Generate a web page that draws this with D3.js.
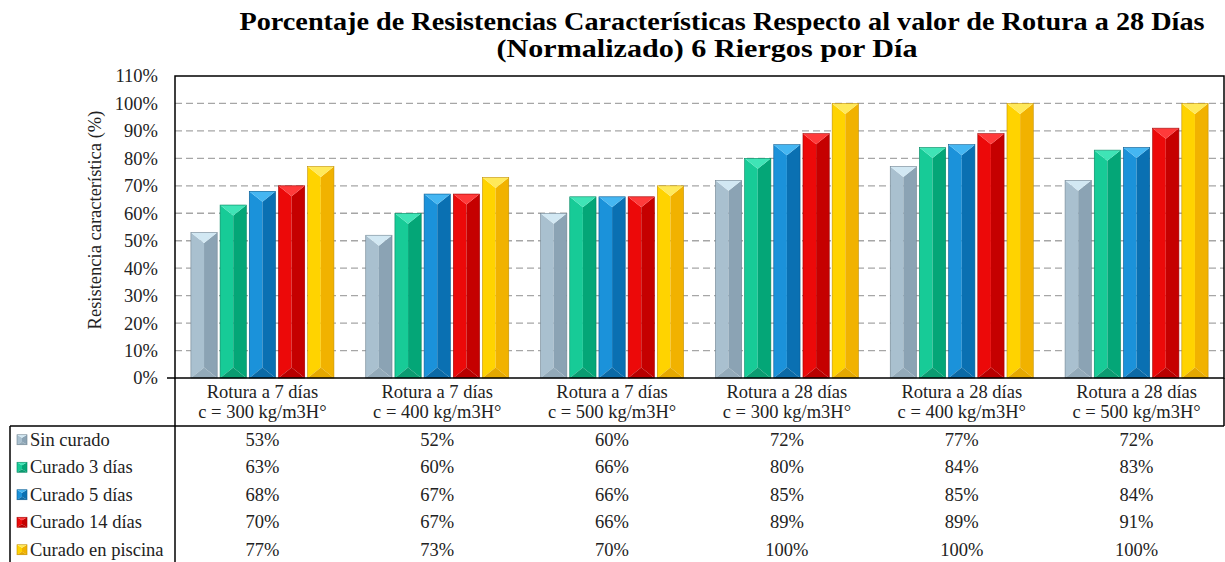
<!DOCTYPE html>
<html>
<head>
<meta charset="utf-8">
<script src="https://cdn.jsdelivr.net/npm/d3@7"></script>
<style>
  body { margin: 0; background: #fff; }
  text { font-family: "Liberation Serif", "DejaVu Serif", serif; }
</style>
</head>
<body>
<svg width="1225" height="562"></svg>
<script>
// datos del grafico
var categoriesTop = ["Rotura a 7 días", "Rotura a 7 días", "Rotura a 7 días", "Rotura a 28 días", "Rotura a 28 días", "Rotura a 28 días"];
var categoriesBottom = ["c = 300 kg/m3H°", "c = 400 kg/m3H°", "c = 500 kg/m3H°", "c = 300 kg/m3H°", "c = 400 kg/m3H°", "c = 500 kg/m3H°"];
var seriesNames = ["Sin curado", "Curado 3 días", "Curado 5 días", "Curado 14 días", "Curado en piscina"];
var sinCurado = [53, 52, 60, 72, 77, 72];
var curado3 = [63, 60, 66, 80, 84, 83];
var curado5 = [68, 67, 66, 85, 85, 84];
var curado14 = [70, 67, 66, 89, 89, 91];
var piscina = [77, 73, 70, 100, 100, 100];
var yTicks = [0, 10, 20, 30, 40, 50, 60, 70, 80, 90, 100, 110];

var seriesValues = [sinCurado, curado3, curado5, curado14, piscina];
var serif = "Liberation Serif, DejaVu Serif, serif";

// colores: cara izquierda, cara derecha, arriba, abajo
var colors = [
  {l: "#a9c0cf", r: "#8ba3b4", t: "#d2e8f3", b: "#93aab9"},
  {l: "#17cb97", r: "#04a677", t: "#3fe4b6", b: "#0b9c71"},
  {l: "#1b92da", r: "#0a70b2", t: "#45b6f2", b: "#0c6aa6"},
  {l: "#ec0909", r: "#c50000", t: "#ff3a3a", b: "#b80000"},
  {l: "#ffd300", r: "#f1b200", t: "#ffe95a", b: "#e4a800"}
];

var svg = d3.select("svg");
var plot = {left: 175, right: 1224, top: 76, bottom: 378};

var x0 = d3.scaleBand().domain(d3.range(categoriesTop.length)).range([plot.left, plot.right]).padding(0);
var x1 = d3.scaleBand().domain(d3.range(seriesNames.length)).range([0, x0.bandwidth()])
  .paddingInner(0.1).paddingOuter(0.545);
var y = d3.scaleLinear().domain([0, 110]).range([plot.bottom, plot.top]);

// titulo
svg.append("text").attr("x", 722).attr("y", 30).attr("text-anchor", "middle")
  .attr("font-family", serif).attr("font-size", 25).attr("font-weight", "bold").attr("fill", "#000")
  .attr("textLength", 965).attr("lengthAdjust", "spacingAndGlyphs")
  .text("Porcentaje de Resistencias Características Respecto al valor de Rotura a 28 Días");
svg.append("text").attr("x", 707).attr("y", 57).attr("text-anchor", "middle")
  .attr("font-family", serif).attr("font-size", 25).attr("font-weight", "bold").attr("fill", "#000")
  .attr("textLength", 421).attr("lengthAdjust", "spacingAndGlyphs")
  .text("(Normalizado) 6 Riergos por Día");

// lineas de la cuadricula
svg.append("g").selectAll("line")
  .data(yTicks.filter(function(d) { return d > 0 && d < 110; }))
  .enter().append("line")
  .attr("x1", plot.left).attr("x2", plot.right)
  .attr("y1", function(d) { return y(d); }).attr("y2", function(d) { return y(d); })
  .attr("stroke", "#a6a6a6").attr("stroke-width", 1.3).attr("stroke-dasharray", "7,4");

// eje y
var yAxis = svg.append("g")
  .attr("transform", "translate(" + plot.left + ",0)")
  .call(d3.axisLeft(y).tickValues(yTicks).tickSize(0).tickPadding(17).tickFormat(function(d) { return d + "%"; }));
yAxis.attr("font-family", serif).attr("font-size", 18.5);
yAxis.select(".domain").remove();
yAxis.selectAll("text").attr("fill", "#222");

svg.append("text")
  .attr("transform", "translate(101,220) rotate(-90)")
  .attr("font-family", serif).attr("text-anchor", "middle").attr("font-size", 18.5).attr("fill", "#222")
  .text("Resistencia característica (%)");

// barras con bisel
function bevel(g, x, yTop, w, h, c, b) {
  b = Math.min(b, h / 2);
  var xr = x + w, yb = yTop + h;
  g.append("polygon").attr("points", [[x, yTop], [x + w / 2, yTop + b], [x + w / 2, yb - b], [x, yb]].join(" ")).attr("fill", c.l);
  g.append("polygon").attr("points", [[xr, yTop], [x + w / 2, yTop + b], [x + w / 2, yb - b], [xr, yb]].join(" ")).attr("fill", c.r);
  g.append("polygon").attr("points", [[x, yTop], [xr, yTop], [x + w / 2, yTop + b]].join(" ")).attr("fill", c.t);
  g.append("polygon").attr("points", [[x, yb], [xr, yb], [x + w / 2, yb - b]].join(" ")).attr("fill", c.b);
  g.append("rect").attr("x", x).attr("y", yTop).attr("width", w).attr("height", h)
    .attr("fill", "none").attr("stroke", d3.color(c.r).darker(0.6)).attr("stroke-width", 0.6);
}

var bars = svg.append("g");
seriesValues.forEach(function(vals, s) {
  vals.forEach(function(v, i) {
    var bx = x0(i) + x1(s);
    bevel(bars, bx, y(v), x1.bandwidth(), y(0) - y(v), colors[s], x1.bandwidth() * 0.4);
  });
});

// marco del area de trazado
svg.append("rect").attr("x", plot.left).attr("y", plot.top)
  .attr("width", plot.right - plot.left).attr("height", plot.bottom - plot.top)
  .attr("fill", "none").attr("stroke", "#000").attr("stroke-width", 1.5);

// tabla de datos
var headBottom = 426, rowH = 27.5, tableLeft = 10;
var lines = svg.append("g").attr("stroke", "#000").attr("stroke-width", 1.5);
lines.append("line").attr("x1", 167).attr("x2", plot.left).attr("y1", plot.bottom).attr("y2", plot.bottom);
lines.append("line").attr("x1", plot.left).attr("x2", plot.left).attr("y1", plot.bottom).attr("y2", 562);
lines.append("line").attr("x1", plot.right).attr("x2", plot.right).attr("y1", plot.bottom).attr("y2", headBottom);
lines.append("line").attr("x1", tableLeft).attr("x2", plot.right).attr("y1", headBottom).attr("y2", headBottom);
lines.append("line").attr("x1", tableLeft).attr("x2", tableLeft).attr("y1", headBottom).attr("y2", 562);

var head = svg.append("g").attr("font-family", serif).attr("font-size", 18.5).attr("fill", "#222").attr("text-anchor", "middle");
categoriesTop.forEach(function(t, i) {
  var cx = x0(i) + x0.bandwidth() / 2;
  head.append("text").attr("x", cx).attr("y", 398).text(t);
  head.append("text").attr("x", cx).attr("y", 418).text(categoriesBottom[i]);
});

var rows = svg.append("g").attr("font-family", serif).attr("font-size", 18.5).attr("fill", "#222");
seriesNames.forEach(function(name, s) {
  var cy = headBottom + rowH * (s + 0.5);
  var key = rows.append("g");
  bevel(key, 17, cy - 5, 10, 10, colors[s], 3);
  rows.append("text").attr("x", 30).attr("y", cy + 6).text(name);
  seriesValues[s].forEach(function(v, i) {
    rows.append("text").attr("x", x0(i) + x0.bandwidth() / 2).attr("y", cy + 6)
      .attr("text-anchor", "middle").text(v + "%");
  });
});
</script>
</body>
</html>
